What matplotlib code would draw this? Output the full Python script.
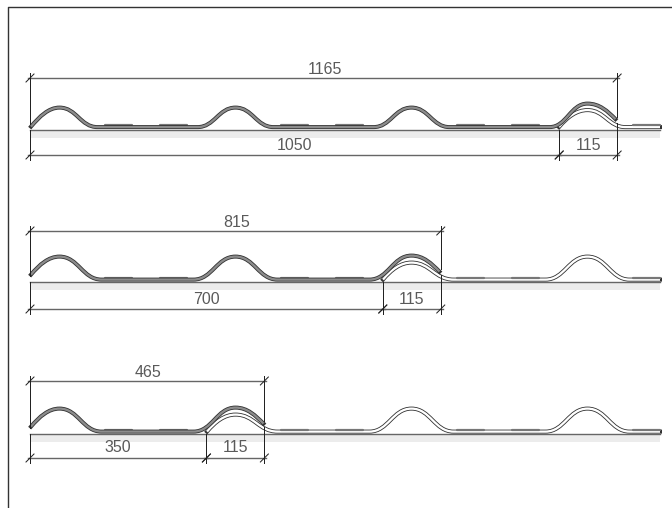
import matplotlib
matplotlib.use('Agg')
import matplotlib.pyplot as plt
from matplotlib.path import Path
from matplotlib.patches import PathPatch

# dimension values, one row per roof length
totals = [1165, 815, 465]
covers = [1050, 700, 350]
laps = [115, 115, 115]
crests_per_row = [3, 2, 1]   # full dark crests before the lap

plt.rcParams['font.family'] = ['Liberation Sans', 'DejaVu Sans']

# layout in pixels
PX_PER_UNIT = 0.504
LEFT = 30
RIGHT = 660
PERIOD = 176
FIRST_CREST = 59.5
base_ys = [129.5, 282, 434]
top_ys = [78, 231, 381]
bottom_ys = [155, 309, 458]
crest_heights = [19.5, 23, 23]
lap_heights = [23.5, 24, 24]
start_heights = [0.5, 5, 5]
half_widths = [38, 42, 42]
UNDER_LAP_HEIGHT = 17
pads = [(45, 72), (100, 127)]

fig = plt.figure(figsize=(6.72, 5.08), dpi=100)
ax = fig.add_axes([0, 0, 1, 1])
ax.set_xlim(0, 672)
ax.set_ylim(508, 0)
ax.axis('off')


def lw(px):
    return px * 72 / 100


def tile_path(crests, heights, flat_y, w, start_h, end_x=None):
    # cut start, crests with flats between, then a cut end or a flat run to end_x
    c = crests[0]
    start_y = flat_y - start_h
    verts = [(c - 28.5, start_y)]
    codes = [Path.MOVETO]

    def curve(*pts):
        verts.extend(pts)
        codes.extend([Path.CURVE4] * len(pts))

    for i, (c, top) in enumerate(zip(crests, heights)):
        if i == 0:
            curve((c - 20, start_y - 10), (c - 11, flat_y - top), (c, flat_y - top))
        else:
            curve((c - w * 0.55, flat_y), (c - w * 0.45, flat_y - top), (c, flat_y - top))
        if end_x is None and i == len(crests) - 1:
            curve((c + 12, flat_y - top), (c + 20, flat_y - 16), (c + 28, flat_y - 8))
        else:
            curve((c + w * 0.45, flat_y - top), (c + w * 0.55, flat_y), (c + w, flat_y))
            if i < len(crests) - 1:
                verts.append((crests[i + 1] - w, flat_y))
                codes.append(Path.LINETO)
    if end_x is not None:
        verts.append((end_x, flat_y))
        codes.append(Path.LINETO)
    return Path(verts, codes)


def draw_tile(path, fill, z):
    ax.add_patch(PathPatch(path, fc='none', ec='#333333', lw=lw(4), capstyle='projecting',
                           joinstyle='round', zorder=z))
    ax.add_patch(PathPatch(path, fc='none', ec=fill, lw=lw(2.3), capstyle='butt',
                           joinstyle='round', zorder=z + 0.1))


def dim_tick(x, y):
    ax.plot([x - 4, x + 4], [y + 4, y - 4], color='#222222', lw=lw(1), zorder=6)
    ax.plot([x, x], [y - 5, y + 5], color='#222222', lw=lw(1), zorder=6)


def dim_line(x0, x1, y):
    ax.plot([x0 - 2, x1 + 2], [y, y], color='#666666', lw=lw(1.4), zorder=5)
    dim_tick(x0, y)
    dim_tick(x1, y)


def dim_text(x, y, value):
    ax.text(x, y, str(value), ha='center', va='center', fontsize=11.5, color='#5a5a5a', zorder=7)


# sheet frame
ax.plot([7.5, 7.5, 672], [508, 6.5, 6.5], color='#333333', lw=lw(1.4), clip_on=False)

for r in range(3):
    base = base_ys[r]
    flat = base - 2.4
    n = crests_per_row[r]
    cover_x = LEFT + covers[r] * PX_PER_UNIT
    total_x = LEFT + totals[r] * PX_PER_UNIT

    # ground band and line
    ax.fill_between([LEFT, RIGHT], base, base + 8, color='#ececec', lw=0, zorder=1)
    ax.plot([LEFT, RIGHT], [base, base], color='#666666', lw=lw(1.4), zorder=2)

    crests = [FIRST_CREST + PERIOD * i for i in range(4)]
    dark = crests[:n + 1]
    white = crests[n:]
    dark_h = [crest_heights[r]] * n + [lap_heights[r]]
    white_h = [UNDER_LAP_HEIGHT] + [crest_heights[r]] * (len(white) - 1)

    # white tile lies under the lapped dark one
    draw_tile(tile_path(white, white_h, flat, half_widths[r], 0, end_x=RIGHT), 'white', 3)
    draw_tile(tile_path(dark, dark_h, flat, half_widths[r], start_heights[r]), '#8c8c8c', 4)

    # raised pads on the flats
    for c in crests:
        for p0, p1 in pads:
            if c + p1 < RIGHT:
                ax.plot([c + p0, c + p1], [flat - 1.8, flat - 1.8], color='#777777', lw=lw(2.2),
                        solid_capstyle='round', zorder=3.5)

    # dimensions
    ax.plot([LEFT, LEFT], [top_ys[r], base - 6], color='#222222', lw=lw(1), zorder=5)
    ax.plot([LEFT, LEFT], [base, bottom_ys[r]], color='#222222', lw=lw(1), zorder=5)
    ax.plot([total_x, total_x], [top_ys[r], base - 13], color='#222222', lw=lw(1), zorder=5)
    ax.plot([total_x, total_x], [base - 7, bottom_ys[r]], color='#222222', lw=lw(1), zorder=5)
    ax.plot([cover_x, cover_x], [base, bottom_ys[r]], color='#222222', lw=lw(1), zorder=5)
    dim_line(LEFT, total_x, top_ys[r])
    dim_line(LEFT, cover_x, bottom_ys[r])
    dim_line(cover_x, total_x, bottom_ys[r])

    dim_text((LEFT + total_x) / 2 + 1, top_ys[r] - 8.5, totals[r])
    dim_text((LEFT + cover_x) / 2, bottom_ys[r] - 10, covers[r])
    dim_text((cover_x + total_x) / 2, bottom_ys[r] - 10, laps[r])

fig.savefig('out.png', dpi=100)
